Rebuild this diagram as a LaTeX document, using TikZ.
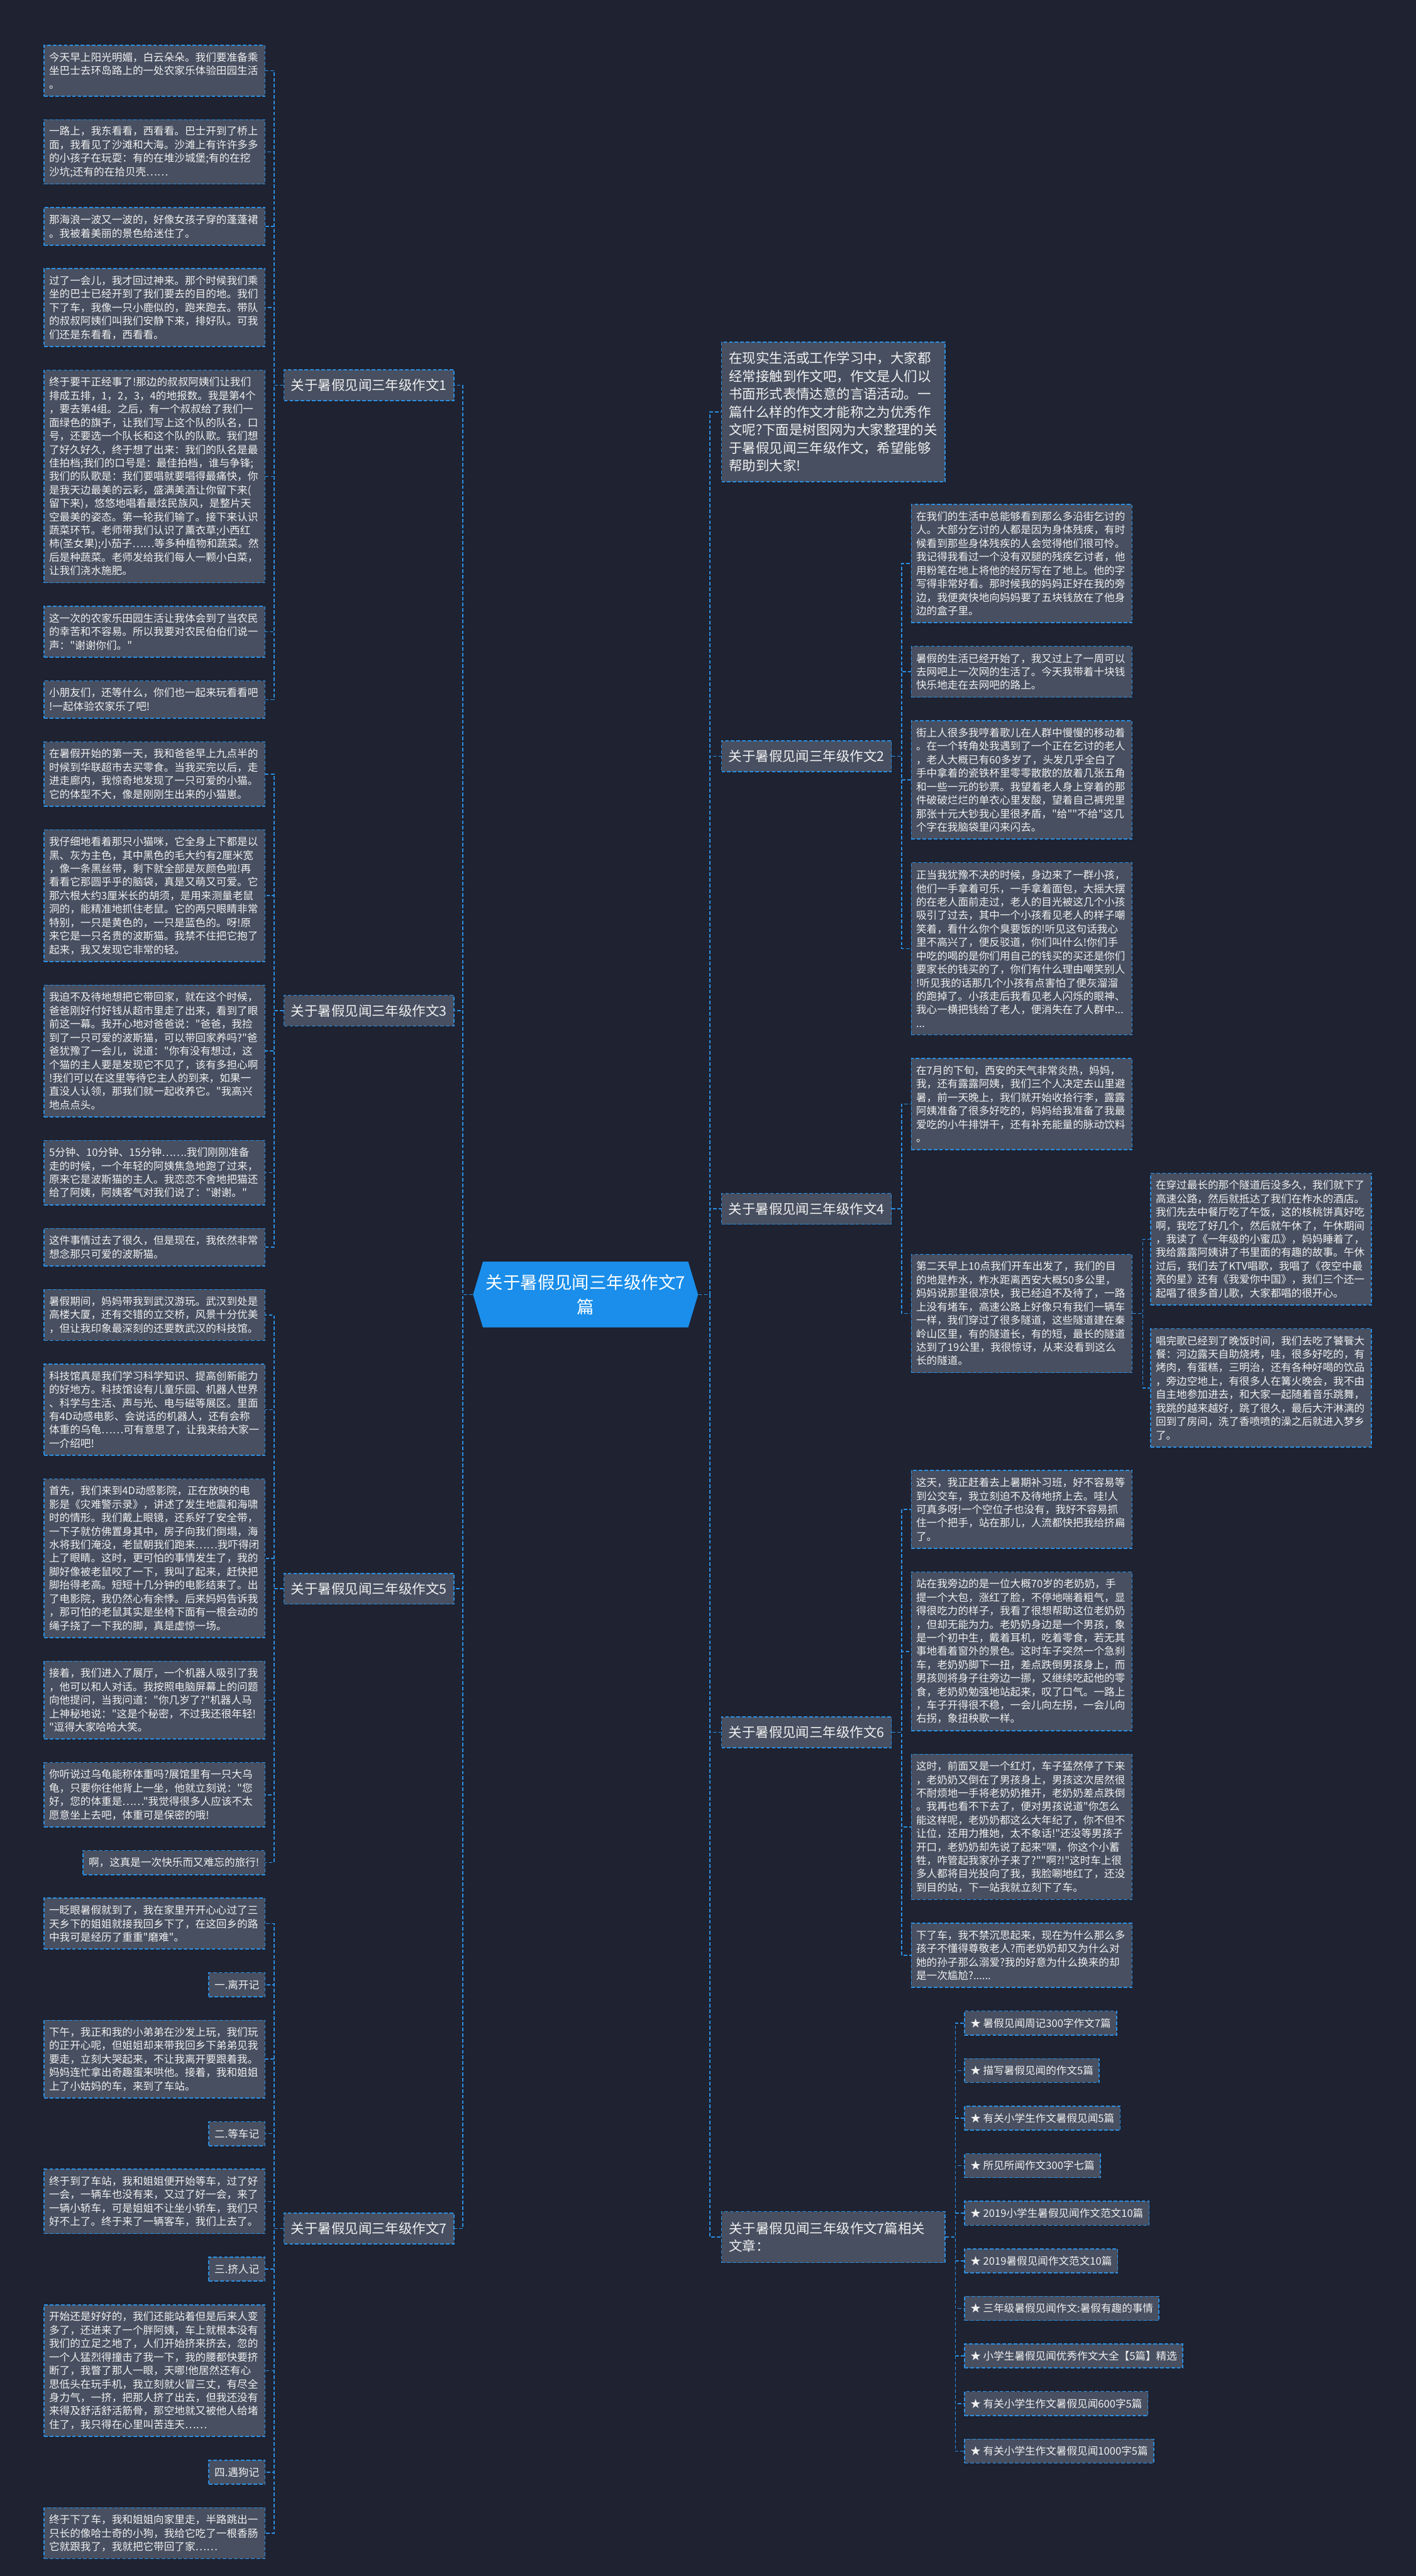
\documentclass[tikz,border=0pt]{standalone}
\usepackage{fontspec}
\setmainfont{Noto Sans CJK SC}[Ligatures=TeXOff]
\usetikzlibrary{calc}
\definecolor{bgc}{HTML}{1E2231}
\definecolor{boxc}{HTML}{474F60}
\definecolor{blc}{HTML}{2B8FE2}
\definecolor{txc}{HTML}{F0F0F0}
\definecolor{cenc}{HTML}{1A8EEA}
\newcommand{\leaffont}{\fontsize{6.36pt}{8.2pt}\selectfont}
\newcommand{\labfont}{\fontsize{8.2pt}{10.9pt}\selectfont}
\newcommand{\relfont}{\fontsize{8.2pt}{10.6pt}\selectfont}
\newcommand{\cenfont}{\fontsize{10.5pt}{15pt}\selectfont}
\tikzset{
 bx/.style={draw=blc, line width=0.6pt, dash pattern=on 2.2pt off 1.2pt, fill=boxc, text=txc, inner ysep=0pt},
 leaf/.style={bx, font=\leaffont, inner xsep=3pt, text width=128.4pt, align=left, minimum height=#1*8.2pt+6.4pt},
 sleaf/.style={bx, font=\leaffont, inner xsep=3.5pt, minimum height=14.6pt},
 lab/.style={bx, font=\labfont, inner xsep=4.2pt, minimum height=18.7pt, minimum width=103.4pt},
 conn/.style={draw=blc, line width=0.6pt, dash pattern=on 2.2pt off 1.2pt},
 cen/.style={font=\cenfont, text=white, align=center, text width=126pt, minimum width=137pt, minimum height=40pt, inner sep=0pt},
}
\begin{document}
\begin{tikzpicture}[x=1pt,y=-1pt]
\fill[bgc] (0,0) rectangle (862,1568);
\useasboundingbox (0,0) rectangle (862,1568);
% center
\fill[cenc] (288,788) -- (294,768) -- (419,768) -- (425,788) -- (419,808) -- (294,808) -- cycle;
\node[cen] (C) at (356.5,788) {关于暑假见闻三年级作文7\\篇};
% ---------- left: 作文1
\node[leaf=3, anchor=north east] (L1) at (161.6,27.2) {今天早上阳光明媚，白云朵朵。我们要准备乘\\坐巴士去环岛路上的一处农家乐体验田园生活\\。};
\node[leaf=4, anchor=north east] (L2) at ($(L1.south east)+(0,13.75)$) {一路上，我东看看，西看看。巴士开到了桥上\\面，我看见了沙滩和大海。沙滩上有许许多多\\的小孩子在玩耍：有的在堆沙城堡;有的在挖\\沙坑;还有的在拾贝壳……};
\node[leaf=2, anchor=north east] (L3) at ($(L2.south east)+(0,13.75)$) {那海浪一波又一波的，好像女孩子穿的蓬蓬裙\\。我被着美丽的景色给迷住了。};
\node[leaf=5, anchor=north east] (L4) at ($(L3.south east)+(0,13.75)$) {过了一会儿，我才回过神来。那个时候我们乘\\坐的巴士已经开到了我们要去的目的地。我们\\下了车，我像一只小鹿似的，跑来跑去。带队\\的叔叔阿姨们叫我们安静下来，排好队。可我\\们还是东看看，西看看。};
\node[leaf=15, anchor=north east] (L5) at ($(L4.south east)+(0,13.75)$) {终于要干正经事了!那边的叔叔阿姨们让我们\\排成五排，1，2，3，4的地报数。我是第4个\\，要去第4组。之后，有一个叔叔给了我们一\\面绿色的旗子，让我们写上这个队的队名，口\\号，还要选一个队长和这个队的队歌。我们想\\了好久好久，终于想了出来：我们的队名是最\\佳拍档;我们的口号是：最佳拍档，谁与争锋;\\我们的队歌是：我们要唱就要唱得最痛快，你\\是我天边最美的云彩，盛满美酒让你留下来(\\留下来)，悠悠地唱着最炫民族风，是整片天\\空最美的姿态。第一轮我们输了。接下来认识\\蔬菜环节。老师带我们认识了薰衣草;小西红\\柿(圣女果);小茄子……等多种植物和蔬菜。然\\后是种蔬菜。老师发给我们每人一颗小白菜，\\让我们浇水施肥。};
\node[leaf=3, anchor=north east] (L6) at ($(L5.south east)+(0,13.75)$) {这一次的农家乐田园生活让我体会到了当农民\\的幸苦和不容易。所以我要对农民伯伯们说一\\声："谢谢你们。"};
\node[leaf=2, anchor=north east] (L7) at ($(L6.south east)+(0,13.75)$) {小朋友们，还等什么，你们也一起来玩看看吧\\!一起体验农家乐了吧!};
% ---------- left: 作文3
\node[leaf=4, anchor=north east] (L8) at ($(L7.south east)+(0,13.75)$) {在暑假开始的第一天，我和爸爸早上九点半的\\时候到华联超市去买零食。当我买完以后，走\\进走廊内，我惊奇地发现了一只可爱的小猫。\\它的体型不大，像是刚刚生出来的小猫崽。};
\node[leaf=9, anchor=north east] (L9) at ($(L8.south east)+(0,13.75)$) {我仔细地看着那只小猫咪，它全身上下都是以\\黑、灰为主色，其中黑色的毛大约有2厘米宽\\，像一条黑丝带，剩下就全部是灰颜色啦!再\\看看它那圆乎乎的脑袋，真是又萌又可爱。它\\那六根大约3厘米长的胡须，是用来测量老鼠\\洞的，能精准地抓住老鼠。它的两只眼睛非常\\特别，一只是黄色的，一只是蓝色的。呀!原\\来它是一只名贵的波斯猫。我禁不住把它抱了\\起来，我又发现它非常的轻。};
\node[leaf=9, anchor=north east] (L10) at ($(L9.south east)+(0,13.75)$) {我迫不及待地想把它带回家，就在这个时候，\\爸爸刚好付好钱从超市里走了出来，看到了眼\\前这一幕。我开心地对爸爸说："爸爸，我捡\\到了一只可爱的波斯猫，可以带回家养吗?"爸\\爸犹豫了一会儿，说道："你有没有想过，这\\个猫的主人要是发现它不见了，该有多担心啊\\!我们可以在这里等待它主人的到来，如果一\\直没人认领，那我们就一起收养它。"我高兴\\地点点头。};
\node[leaf=4, anchor=north east] (L11) at ($(L10.south east)+(0,13.75)$) {5分钟、10分钟、15分钟…….我们刚刚准备\\走的时候，一个年轻的阿姨焦急地跑了过来，\\原来它是波斯猫的主人。我恋恋不舍地把猫还\\给了阿姨，阿姨客气对我们说了："谢谢。"};
\node[leaf=2, anchor=north east] (L12) at ($(L11.south east)+(0,13.75)$) {这件事情过去了很久，但是现在，我依然非常\\想念那只可爱的波斯猫。};
% ---------- left: 作文5
\node[leaf=3, anchor=north east] (L13) at ($(L12.south east)+(0,13.75)$) {暑假期间，妈妈带我到武汉游玩。武汉到处是\\高楼大厦，还有交错的立交桥，风景十分优美\\，但让我印象最深刻的还要数武汉的科技馆。};
\node[leaf=6, anchor=north east] (L14) at ($(L13.south east)+(0,13.75)$) {科技馆真是我们学习科学知识、提高创新能力\\的好地方。科技馆设有儿童乐园、机器人世界\\、科学与生活、声与光、电与磁等展区。里面\\有4D动感电影、会说话的机器人，还有会称\\体重的乌龟……可有意思了，让我来给大家一\\一介绍吧!};
\node[leaf=11, anchor=north east] (L15) at ($(L14.south east)+(0,13.75)$) {首先，我们来到4D动感影院，正在放映的电\\影是《灾难警示录》，讲述了发生地震和海啸\\时的情形。我们戴上眼镜，还系好了安全带，\\一下子就仿佛置身其中，房子向我们倒塌，海\\水将我们淹没，老鼠朝我们跑来……我吓得闭\\上了眼睛。这时，更可怕的事情发生了，我的\\脚好像被老鼠咬了一下，我叫了起来，赶快把\\脚抬得老高。短短十几分钟的电影结束了。出\\了电影院，我仍然心有余悸。后来妈妈告诉我\\，那可怕的老鼠其实是坐椅下面有一根会动的\\绳子挠了一下我的脚，真是虚惊一场。};
\node[leaf=5, anchor=north east] (L16) at ($(L15.south east)+(0,13.75)$) {接着，我们进入了展厅，一个机器人吸引了我\\，他可以和人对话。我按照电脑屏幕上的问题\\向他提问，当我问道："你几岁了?"机器人马\\上神秘地说："这是个秘密，不过我还很年轻!\\"逗得大家哈哈大笑。};
\node[leaf=4, anchor=north east] (L17) at ($(L16.south east)+(0,13.75)$) {你听说过乌龟能称体重吗?展馆里有一只大乌\\龟，只要你往他背上一坐，他就立刻说："您\\好，您的体重是……"我觉得很多人应该不太\\愿意坐上去吧，体重可是保密的哦!};
\node[sleaf, anchor=north east] (L18) at ($(L17.south east)+(0,13.75)$) {啊，这真是一次快乐而又难忘的旅行!};
% ---------- left: 作文7
\node[leaf=3, anchor=north east] (L19) at ($(L18.south east)+(0,13.75)$) {一眨眼暑假就到了，我在家里开开心心过了三\\天乡下的姐姐就接我回乡下了，在这回乡的路\\中我可是经历了重重"磨难"。};
\node[sleaf, anchor=north east] (L20) at ($(L19.south east)+(0,13.75)$) {一.离开记};
\node[leaf=5, anchor=north east] (L21) at ($(L20.south east)+(0,13.75)$) {下午，我正和我的小弟弟在沙发上玩，我们玩\\的正开心呢，但姐姐却来带我回乡下弟弟见我\\要走，立刻大哭起来，不让我离开要跟着我。\\妈妈连忙拿出奇趣蛋来哄他。接着，我和姐姐\\上了小姑妈的车，来到了车站。};
\node[sleaf, anchor=north east] (L22) at ($(L21.south east)+(0,13.75)$) {二.等车记};
\node[leaf=4, anchor=north east] (L23) at ($(L22.south east)+(0,13.75)$) {终于到了车站，我和姐姐便开始等车，过了好\\一会，一辆车也没有来，又过了好一会，来了\\一辆小轿车，可是姐姐不让坐小轿车，我们只\\好不上了。终于来了一辆客车，我们上去了。};
\node[sleaf, anchor=north east] (L24) at ($(L23.south east)+(0,13.75)$) {三.挤人记};
\node[leaf=9, anchor=north east] (L25) at ($(L24.south east)+(0,13.75)$) {开始还是好好的，我们还能站着但是后来人变\\多了，还进来了一个胖阿姨，车上就根本没有\\我们的立足之地了，人们开始挤来挤去，忽的\\一个人猛烈得撞击了我一下，我的腰都快要挤\\断了，我瞥了那人一眼，天哪!他居然还有心\\思低头在玩手机，我立刻就火冒三丈，有尽全\\身力气，一挤，把那人挤了出去，但我还没有\\来得及舒活舒活筋骨，那空地就又被他人给堵\\住了，我只得在心里叫苦连天……};
\node[sleaf, anchor=north east] (L26) at ($(L25.south east)+(0,13.75)$) {四.遇狗记};
\node[leaf=3, anchor=north east] (L27) at ($(L26.south east)+(0,13.75)$) {终于下了车，我和姐姐向家里走，半路跳出一\\只长的像哈士奇的小狗，我给它吃了一根香肠\\它就跟我了，我就把它带回了家……};
% left labels
\node[lab, anchor=east] (B1) at ($(L1.east)!0.5!(L7.east)+(115,0)$) {关于暑假见闻三年级作文1};
\node[lab, anchor=east] (B3) at ($(L8.east)!0.5!(L12.east)+(115,0)$) {关于暑假见闻三年级作文3};
\node[lab, anchor=east] (B5) at ($(L13.east)!0.5!(L18.east)+(115,0)$) {关于暑假见闻三年级作文5};
\node[lab, anchor=east] (B7) at ($(L19.east)!0.5!(L27.east)+(115,0)$) {关于暑假见闻三年级作文7};
% ---------- right
\node[bx, font=\labfont, text width=127pt, inner xsep=4.5pt, align=left, minimum height=85pt, anchor=north west] (I) at (439,208) {在现实生活或工作学习中，大家都\\经常接触到作文吧，作文是人们以\\书面形式表情达意的言语活动。一\\篇什么样的作文才能称之为优秀作\\文呢?下面是树图网为大家整理的关\\于暑假见闻三年级作文，希望能够\\帮助到大家!};
\node[leaf=8, anchor=north west] (R2a) at (554.5,306.75) {在我们的生活中总能够看到那么多沿街乞讨的\\人。大部分乞讨的人都是因为身体残疾，有时\\候看到那些身体残疾的人会觉得他们很可怜。\\我记得我看过一个没有双腿的残疾乞讨者，他\\用粉笔在地上将他的经历写在了地上。他的字\\写得非常好看。那时候我的妈妈正好在我的旁\\边，我便爽快地向妈妈要了五块钱放在了他身\\边的盒子里。};
\node[leaf=3, anchor=north west] (R2b) at ($(R2a.south west)+(0,13.75)$) {暑假的生活已经开始了，我又过上了一周可以\\去网吧上一次网的生活了。今天我带着十块钱\\快乐地走在去网吧的路上。};
\node[leaf=8, anchor=north west] (R2c) at ($(R2b.south west)+(0,13.75)$) {街上人很多我哼着歌儿在人群中慢慢的移动着\\。在一个转角处我遇到了一个正在乞讨的老人\\，老人大概已有60多岁了，头发几乎全白了\\手中拿着的瓷铁杯里零零散散的放着几张五角\\和一些一元的钞票。我望着老人身上穿着的那\\件破破烂烂的单衣心里发酸，望着自己裤兜里\\那张十元大钞我心里很矛盾，"给""不给"这几\\个字在我脑袋里闪来闪去。};
\node[leaf=12, anchor=north west] (R2d) at ($(R2c.south west)+(0,13.75)$) {正当我犹豫不决的时候，身边来了一群小孩，\\他们一手拿着可乐，一手拿着面包，大摇大摆\\的在老人面前走过，老人的目光被这几个小孩\\吸引了过去，其中一个小孩看见老人的样子嘲\\笑着，看什么你个臭要饭的!听见这句话我心\\里不高兴了，便反驳道，你们叫什么!你们手\\中吃的喝的是你们用自己的钱买的买还是你们\\要家长的钱买的了，你们有什么理由嘲笑别人\\!听见我的话那几个小孩有点害怕了便灰溜溜\\的跑掉了。小孩走后我看见老人闪烁的眼神、\\我心一横把钱给了老人，便消失在了人群中...\\...};
\node[leaf=6, anchor=north west] (R4a) at ($(R2d.south west)+(0,13.75)$) {在7月的下旬，西安的天气非常炎热，妈妈，\\我，还有露露阿姨，我们三个人决定去山里避\\暑，前一天晚上，我们就开始收拾行李，露露\\阿姨准备了很多好吃的，妈妈给我准备了我最\\爱吃的小牛排饼干，还有补充能量的脉动饮料\\。};
\node[leaf=9, anchor=north west] (R4bi) at ($(R4a.south west)+(145.8,13.75)$) {在穿过最长的那个隧道后没多久，我们就下了\\高速公路，然后就抵达了我们在柞水的酒店。\\我们先去中餐厅吃了午饭，这的核桃饼真好吃\\啊，我吃了好几个，然后就午休了，午休期间\\，我读了《一年级的小蜜瓜》，妈妈睡着了，\\我给露露阿姨讲了书里面的有趣的故事。午休\\过后，我们去了KTV唱歌，我唱了《夜空中最\\亮的星》还有《我爱你中国》，我们三个还一\\起唱了很多首儿歌，大家都唱的很开心。};
\node[leaf=8, anchor=north west] (R4bii) at ($(R4bi.south west)+(0,13.75)$) {唱完歌已经到了晚饭时间，我们去吃了饕餮大\\餐：河边露天自助烧烤，哇，很多好吃的，有\\烤肉，有蛋糕，三明治，还有各种好喝的饮品\\，旁边空地上，有很多人在篝火晚会，我不由\\自主地参加进去，和大家一起随着音乐跳舞，\\我跳的越来越好，跳了很久，最后大汗淋漓的\\回到了房间，洗了香喷喷的澡之后就进入梦乡\\了。};
\node[leaf=8, anchor=west] (R4b) at ($(R4bi.west)!0.5!(R4bii.west)+(-145.8,0)$) {第二天早上10点我们开车出发了，我们的目\\的地是柞水，柞水距离西安大概50多公里，\\妈妈说那里很凉快，我已经迫不及待了，一路\\上没有堵车，高速公路上好像只有我们一辆车\\一样，我们穿过了很多隧道，这些隧道建在秦\\岭山区里，有的隧道长，有的短，最长的隧道\\达到了19公里，我很惊讶，从来没看到这么\\长的隧道。};
\node[leaf=5, anchor=north west] (R6a) at ($(R4bii.south west)+(-145.8,13.75)$) {这天，我正赶着去上暑期补习班，好不容易等\\到公交车，我立刻迫不及待地挤上去。哇!人\\可真多呀!一个空位子也没有，我好不容易抓\\住一个把手，站在那儿，人流都快把我给挤扁\\了。};
\node[leaf=11, anchor=north west] (R6b) at ($(R6a.south west)+(0,13.75)$) {站在我旁边的是一位大概70岁的老奶奶，手\\提一个大包，涨红了脸，不停地喘着粗气，显\\得很吃力的样子，我看了很想帮助这位老奶奶\\，但却无能为力。老奶奶身边是一个男孩，象\\是一个初中生，戴着耳机，吃着零食，若无其\\事地看着窗外的景色。这时车子突然一个急刹\\车，老奶奶脚下一扭，差点跌倒男孩身上，而\\男孩则将身子往旁边一挪，又继续吃起他的零\\食，老奶奶勉强地站起来，叹了口气。一路上\\，车子开得很不稳，一会儿向左拐，一会儿向\\右拐，象扭秧歌一样。};
\node[leaf=10, anchor=north west] (R6c) at ($(R6b.south west)+(0,13.75)$) {这时，前面又是一个红灯，车子猛然停了下来\\，老奶奶又倒在了男孩身上，男孩这次居然很\\不耐烦地一手将老奶奶推开，老奶奶差点跌倒\\。我再也看不下去了，便对男孩说道"你怎么\\能这样呢，老奶奶都这么大年纪了，你不但不\\让位，还用力推她，太不象话!"还没等男孩子\\开口，老奶奶却先说了起来"嘿，你这个小蓄\\牲，咋管起我家孙子来了?""啊?!"这时车上很\\多人都将目光投向了我，我脸唰地红了，还没\\到目的站，下一站我就立刻下了车。};
\node[leaf=4, anchor=north west] (R6d) at ($(R6c.south west)+(0,13.75)$) {下了车，我不禁沉思起来，现在为什么那么多\\孩子不懂得尊敬老人?而老奶奶却又为什么对\\她的孙子那么溺爱?我的好意为什么换来的却\\是一次尴尬?......};
% related items
\node[sleaf, anchor=north west] (T1) at ($(R6d.south west)+(32.5,13.75)$) {★ 暑假见闻周记300字作文7篇};
\node[sleaf, anchor=north west] (T2) at ($(T1.south west)+(0,13.75)$) {★ 描写暑假见闻的作文5篇};
\node[sleaf, anchor=north west] (T3) at ($(T2.south west)+(0,13.75)$) {★ 有关小学生作文暑假见闻5篇};
\node[sleaf, anchor=north west] (T4) at ($(T3.south west)+(0,13.75)$) {★ 所见所闻作文300字七篇};
\node[sleaf, anchor=north west] (T5) at ($(T4.south west)+(0,13.75)$) {★ 2019小学生暑假见闻作文范文10篇};
\node[sleaf, anchor=north west] (T6) at ($(T5.south west)+(0,13.75)$) {★ 2019暑假见闻作文范文10篇};
\node[sleaf, anchor=north west] (T7) at ($(T6.south west)+(0,13.75)$) {★ 三年级暑假见闻作文:暑假有趣的事情};
\node[sleaf, anchor=north west] (T8) at ($(T7.south west)+(0,13.75)$) {★ 小学生暑假见闻优秀作文大全【5篇】精选};
\node[sleaf, anchor=north west] (T9) at ($(T8.south west)+(0,13.75)$) {★ 有关小学生作文暑假见闻600字5篇};
\node[sleaf, anchor=north west] (T10) at ($(T9.south west)+(0,13.75)$) {★ 有关小学生作文暑假见闻1000字5篇};
% right labels
\node[lab, anchor=west] (B2) at ($(R2a.west)!0.5!(R2d.west)+(-115.5,0)$) {关于暑假见闻三年级作文2};
\node[lab, anchor=west] (B4) at ($(R4a.west)!0.5!(R4b.west)+(-115.5,0)$) {关于暑假见闻三年级作文4};
\node[lab, anchor=west] (B6) at ($(R6a.west)!0.5!(R6d.west)+(-115.5,0)$) {关于暑假见闻三年级作文6};
\node[bx, font=\relfont, text width=127pt, inner xsep=4.5pt, align=left, minimum height=31pt, anchor=west] (RL) at ($(T1.west)!0.5!(T10.west)+(-148,0)$) {关于暑假见闻三年级作文7篇相关\\文章：};
% ---------- connectors
\foreach \n in {B1,B3,B5,B7} \draw[conn] (C.west) -- ++(-6,0) |- (\n.east);
\foreach \n in {I,B2,B4,B6,RL} \draw[conn] (C.east) -- ++(7,0) |- (\n.west);
\foreach \n in {L1,L2,L3,L4,L5,L6,L7} \draw[conn] (B1.west) -- ++(-5.8,0) |- (\n.east);
\foreach \n in {L8,L9,L10,L11,L12} \draw[conn] (B3.west) -- ++(-5.8,0) |- (\n.east);
\foreach \n in {L13,L14,L15,L16,L17,L18} \draw[conn] (B5.west) -- ++(-5.8,0) |- (\n.east);
\foreach \n in {L19,L20,L21,L22,L23,L24,L25,L26,L27} \draw[conn] (B7.west) -- ++(-5.8,0) |- (\n.east);
\foreach \n in {R2a,R2b,R2c,R2d} \draw[conn] (B2.east) -- ++(6,0) |- (\n.west);
\foreach \n in {R4a,R4b} \draw[conn] (B4.east) -- ++(6,0) |- (\n.west);
\foreach \n in {R4bi,R4bii} \draw[conn] (R4b.east) -- ++(6.2,0) |- (\n.west);
\foreach \n in {R6a,R6b,R6c,R6d} \draw[conn] (B6.east) -- ++(6,0) |- (\n.west);
\foreach \n in {T1,T2,T3,T4,T5,T6,T7,T8,T9,T10} \draw[conn] (RL.east) -- ++(6,0) |- (\n.west);
\end{tikzpicture}
\end{document}
